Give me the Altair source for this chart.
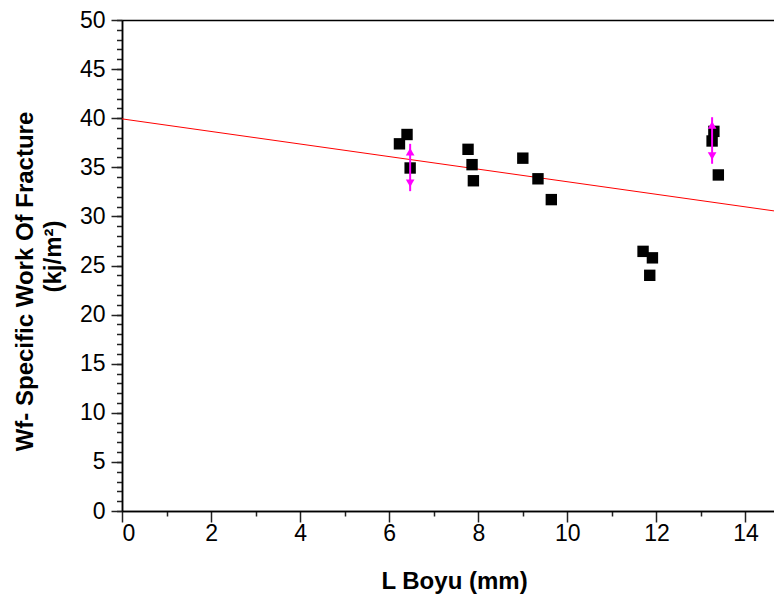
import altair as alt
import pandas as pd

# Data points (L Boyu in mm, Wf in kJ/m^2)
pt_x = [6.23, 6.40, 6.47, 7.77, 7.86, 7.89, 9.00, 9.34, 9.64, 11.70, 11.85, 11.91, 13.25, 13.29, 13.39]
pt_y = [37.39, 38.34, 34.93, 36.83, 35.27, 33.63, 35.93, 33.83, 31.71, 26.44, 24.00, 25.78, 37.68, 38.66, 34.22]

# Error bars
err_x = [6.47, 13.25]
err_y = [34.98, 37.73]
err_e = [2.41, 2.37]

# Linear fit line
fit_x = [0.0, 14.64]
fit_y = [39.93, 30.56]

x_major = [0, 2, 4, 6, 8, 10, 12, 14]
x_minor = [1, 3, 5, 7, 9, 11, 13]
y_major = [0, 5, 10, 15, 20, 25, 30, 35, 40, 45, 50]
y_minor = list(range(0, 51))

pts_df = pd.DataFrame({"x": pt_x, "y": pt_y})
err_df = pd.DataFrame({"x": err_x, "y": err_y, "e": err_e})
fit_df = pd.DataFrame({"x": fit_x, "y": fit_y})

FONT = "Liberation Sans"
xs = alt.Scale(domain=[0, 14.64], nice=False, zero=False)
ys = alt.Scale(domain=[0, 50], nice=False, zero=False)

common = dict(domainColor="#000", domainWidth=1.5, tickColor="#222", tickWidth=1.5,
              grid=False, labelFont=FONT, titleFont=FONT, labelColor="#000",
              titleColor="#000")

line = alt.Chart(fit_df).mark_line(color="#ff0000", strokeWidth=1).encode(
    x=alt.X("x:Q", scale=xs, axis=alt.Axis(
        orient="bottom", values=x_major, tickSize=11, labelFontSize=23, labelPadding=0,
        format="d", title="L Boyu (mm)", titleFontSize=24, titleFontWeight="bold",
        titleX=332, titleY=77, titleBaseline="alphabetic", titleAlign="center", **common)),
    y=alt.Y("y:Q", scale=ys, axis=alt.Axis(
        orient="left", values=y_major, tickSize=11, labelFontSize=23, labelPadding=6,
        format="d",
        title="Wf- Specific Work Of Fracture", titleFontSize=24, titleFontWeight="bold",
        titleX=-90, titleY=261, titleBaseline="alphabetic", titleAlign="center", **common)),
)

pts = alt.Chart(pts_df).mark_square(size=130, color="#000", opacity=1).encode(
    x=alt.X("x:Q", scale=xs, axis=alt.Axis(
        orient="bottom", values=x_minor, tickSize=5, labels=False, title=None, **common)),
    y=alt.Y("y:Q", scale=ys, axis=alt.Axis(
        orient="left", values=y_minor, tickSize=5.5, labels=False,
        title="(kj/m²)", titleFontSize=24, titleFontWeight="bold",
        titleX=-62, titleY=236, titleBaseline="alphabetic", titleAlign="center", **common)),
)

bars = alt.Chart(err_df).transform_calculate(
    lo="datum.y - datum.e", hi="datum.y + datum.e"
).mark_rule(color="#ff00ff", strokeWidth=2).encode(
    x=alt.X("x:Q", scale=xs, axis=alt.Axis(
        orient="top", ticks=False, labels=False, title=None, **common)),
    y=alt.Y("lo:Q", scale=ys, axis=None),
    y2="hi:Q",
)

head_up = alt.Chart(err_df).transform_calculate(
    hy="datum.y + datum.e - 0.8"
).mark_point(shape="triangle-up", filled=True, size=75, color="#ff00ff", opacity=1).encode(
    x=alt.X("x:Q", scale=xs, axis=None),
    y=alt.Y("hy:Q", scale=ys, axis=None),
)

head_down = alt.Chart(err_df).transform_calculate(
    ly="datum.y - datum.e + 0.8"
).mark_point(shape="triangle-down", filled=True, size=75, color="#ff00ff", opacity=1).encode(
    x=alt.X("x:Q", scale=xs, axis=None),
    y=alt.Y("ly:Q", scale=ys, axis=None),
)

chart = alt.layer(line, pts, bars, head_up, head_down).resolve_axis(
    x="independent", y="independent"
).properties(
    width=652, height=491,
    autosize=alt.AutoSizeParams(type="none"),
    padding={"left": 114, "top": 12, "right": 0, "bottom": 84},
    background="white",
).configure_view(stroke=None)

chart.save("out.html", embed_options={"renderer": "svg", "actions": False})
